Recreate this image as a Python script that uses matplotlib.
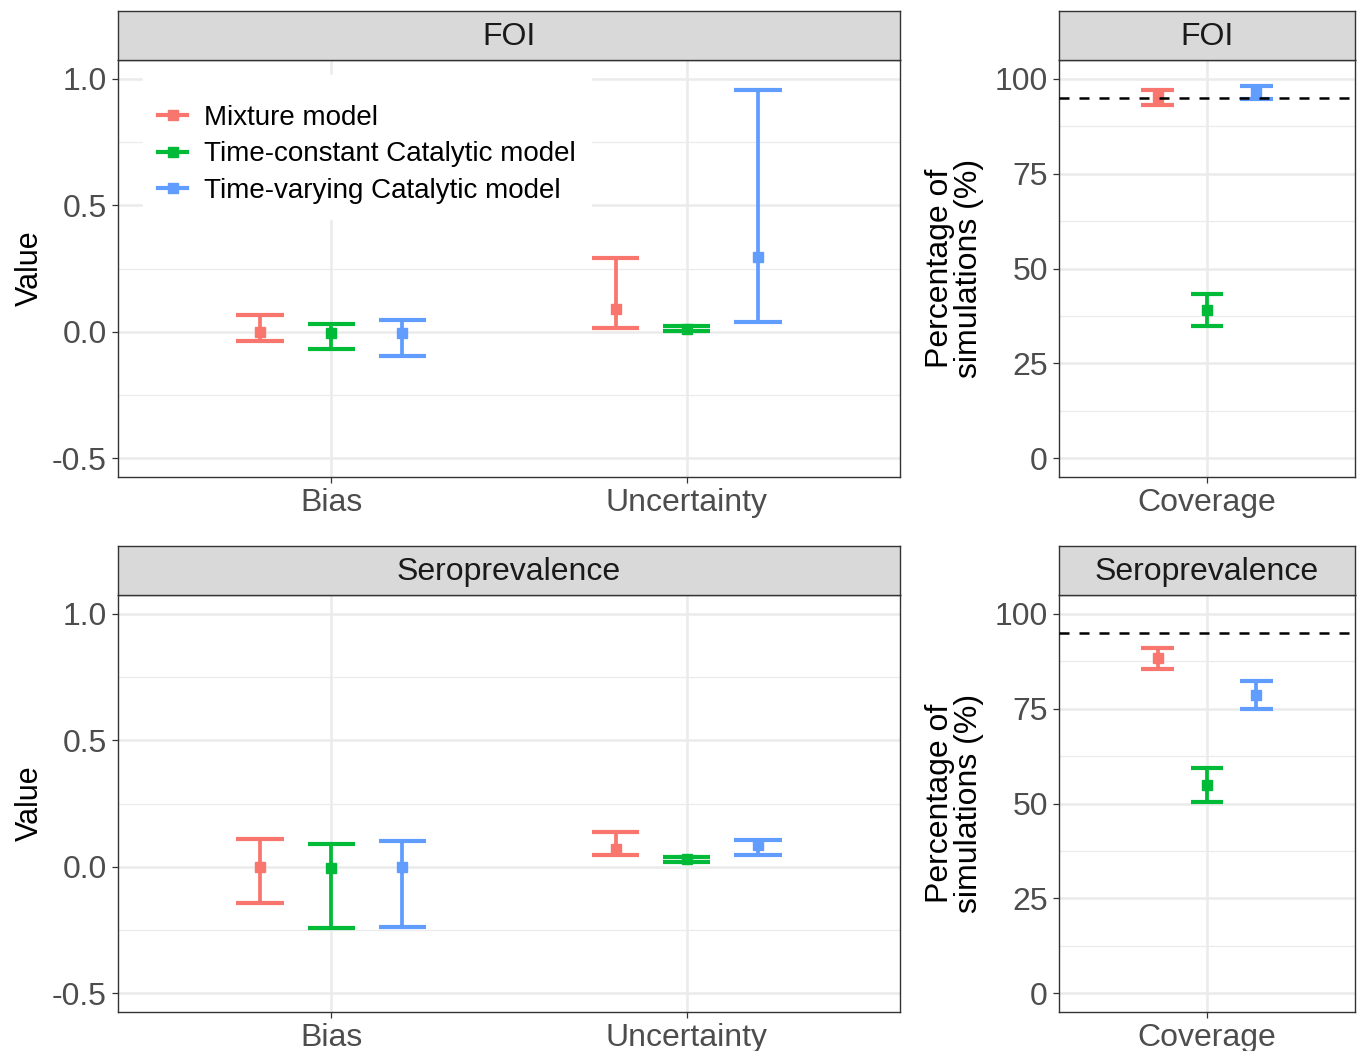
import matplotlib
matplotlib.use("Agg")
import matplotlib.pyplot as plt
from matplotlib.lines import Line2D
import numpy as np

plt.rcParams['font.family'] = ['Liberation Sans', 'DejaVu Sans']
plt.rcParams['axes.unicode_minus'] = False

W, H = 1359, 1051

models = ["Mixture model", "Time-constant Catalytic model", "Time-varying Catalytic model"]
colors = ["#F8766D", "#00BA38", "#619CFF"]
metrics = ["Bias", "Uncertainty"]

# FOI: per model, values for [Bias, Uncertainty]
foi_mid = [[0.000, 0.091], [-0.005, 0.010], [-0.004, 0.295]]
foi_low = [[-0.038, 0.015], [-0.068, 0.002], [-0.095, 0.038]]
foi_high = [[0.065, 0.293], [0.029, 0.021], [0.045, 0.957]]

# Seroprevalence
sero_mid = [[-0.001, 0.071], [-0.004, 0.029], [0.000, 0.084]]
sero_low = [[-0.142, 0.045], [-0.242, 0.018], [-0.238, 0.047]]
sero_high = [[0.110, 0.137], [0.090, 0.038], [0.103, 0.104]]

# Coverage (%)
foi_cov_mid = [95.2, 39.0, 96.6]
foi_cov_low = [93.0, 34.8, 94.6]
foi_cov_high = [97.0, 43.4, 98.2]

sero_cov_mid = [88.3, 54.9, 78.7]
sero_cov_low = [85.4, 50.5, 74.9]
sero_cov_high = [91.1, 59.3, 82.3]

target_cov = 95

value_ticks = [-0.5, 0.0, 0.5, 1.0]
value_ticklabels = ["-0.5", "0.0", "0.5", "1.0"]
cov_ticks = [0, 25, 50, 75, 100]

fig = plt.figure(figsize=(W / 100, H / 100), dpi=100)

def rect(x0, y0, x1, y1):
    return [x0 / W, 1 - y1 / H, (x1 - x0) / W, (y1 - y0) / H]

TICK_FS = 23
GREY30 = "#4D4D4D"
GREY20 = "#333333"
GRID = "#EBEBEB"

def style_axes(ax):
    for s in ax.spines.values():
        s.set_color(GREY20)
        s.set_linewidth(1.0)
    ax.tick_params(axis='both', colors=GREY20, labelcolor=GREY30, labelsize=TICK_FS,
                   length=4, width=0.9, pad=4)
    ax.set_axisbelow(True)

def strip(x0, y0, x1, y1, text):
    s = fig.add_axes(rect(x0, y0, x1, y1))
    s.set_facecolor("#D9D9D9")
    s.set_xticks([]); s.set_yticks([])
    for sp in s.spines.values():
        sp.set_color(GREY20); sp.set_linewidth(1.0)
    s.text(0.5, 0.46, text, ha='center', va='center', fontsize=TICK_FS, color="#1A1A1A",
           transform=s.transAxes)

def draw_err(ax, x, lo, hi, mid, color, capw):
    ax.vlines(x, lo, hi, color=color, lw=2.7, zorder=3)
    ax.hlines([lo, hi], x - capw / 2, x + capw / 2, color=color, lw=3.0, zorder=3)
    ax.plot([x], [mid], marker='s', ms=7, color=color, lw=0, zorder=4)

dodge = [-0.2, 0.0, 0.2]
capw = 0.4 / 3

def value_panel(x0, y0, x1, y1, mids, lows, highs):
    ax = fig.add_axes(rect(x0, y0, x1, y1))
    style_axes(ax)
    ax.set_xlim(0.4, 2.6)
    ax.set_ylim(-0.575, 1.075)
    ax.set_yticks(value_ticks)
    ax.set_yticklabels(value_ticklabels)
    ax.set_yticks([-0.25, 0.25, 0.75], minor=True)
    ax.set_xticks([1, 2])
    ax.set_xticklabels(metrics)
    ax.tick_params(which='minor', length=0)
    ax.grid(True, which='major', color=GRID, lw=1.8)
    ax.grid(True, which='minor', axis='y', color=GRID, lw=0.9)
    for m in range(3):
        for k in range(2):
            draw_err(ax, k + 1 + dodge[m], lows[m][k], highs[m][k], mids[m][k], colors[m], capw)
    ax.set_ylabel("Value", fontsize=22, color="black")
    ax.yaxis.set_label_coords((45 - x0) / (x1 - x0), 0.5)
    return ax

def cov_panel(x0, y0, x1, y1, mids, lows, highs):
    ax = fig.add_axes(rect(x0, y0, x1, y1))
    style_axes(ax)
    ax.set_xlim(0.4, 1.6)
    ax.set_ylim(-5, 105)
    ax.set_yticks(cov_ticks)
    ax.set_yticks([12.5, 37.5, 62.5, 87.5], minor=True)
    ax.set_xticks([1])
    ax.set_xticklabels(["Coverage"])
    ax.tick_params(which='minor', length=0)
    ax.grid(True, which='major', color=GRID, lw=1.8)
    ax.grid(True, which='minor', axis='y', color=GRID, lw=0.9)
    for m in range(3):
        draw_err(ax, 1 + dodge[m], lows[m], highs[m], mids[m], colors[m], capw)
    ax.axhline(target_cov, color='black', lw=1.8, ls=(0, (4, 4)), zorder=5)
    ax.set_ylabel("Percentage of\nsimulations (%)", fontsize=23, color="black",
                  labelpad=8, linespacing=0.95)
    return ax

# Top row
ax1 = value_panel(118, 60, 900, 477, foi_mid, foi_low, foi_high)
strip(118, 11, 900, 60, "FOI")
ax2 = cov_panel(1059, 60, 1355, 477, foi_cov_mid, foi_cov_low, foi_cov_high)
strip(1059, 11, 1355, 60, "FOI")

# Bottom row
ax3 = value_panel(118, 595, 900, 1012, sero_mid, sero_low, sero_high)
strip(118, 546, 900, 595, "Seroprevalence")
ax4 = cov_panel(1059, 595, 1355, 1012, sero_cov_mid, sero_cov_low, sero_cov_high)
strip(1059, 546, 1355, 595, "Seroprevalence")

handles = [Line2D([0], [0], color=c, lw=3.0, marker='s', ms=7) for c in colors]
leg = ax1.legend(handles, models, loc='upper left',
                 bbox_to_anchor=((143 - 118) / 782, 1 - (75 - 60) / 417),
                 fontsize=20, frameon=True, fancybox=False, framealpha=1.0,
                 edgecolor='white', facecolor='white', handlelength=1.05,
                 handletextpad=0.58, labelspacing=0.38, borderpad=0.55, borderaxespad=0,
                 title=" ", title_fontsize=2)
leg.set_zorder(6)

fig.savefig("out.png", dpi=100)
